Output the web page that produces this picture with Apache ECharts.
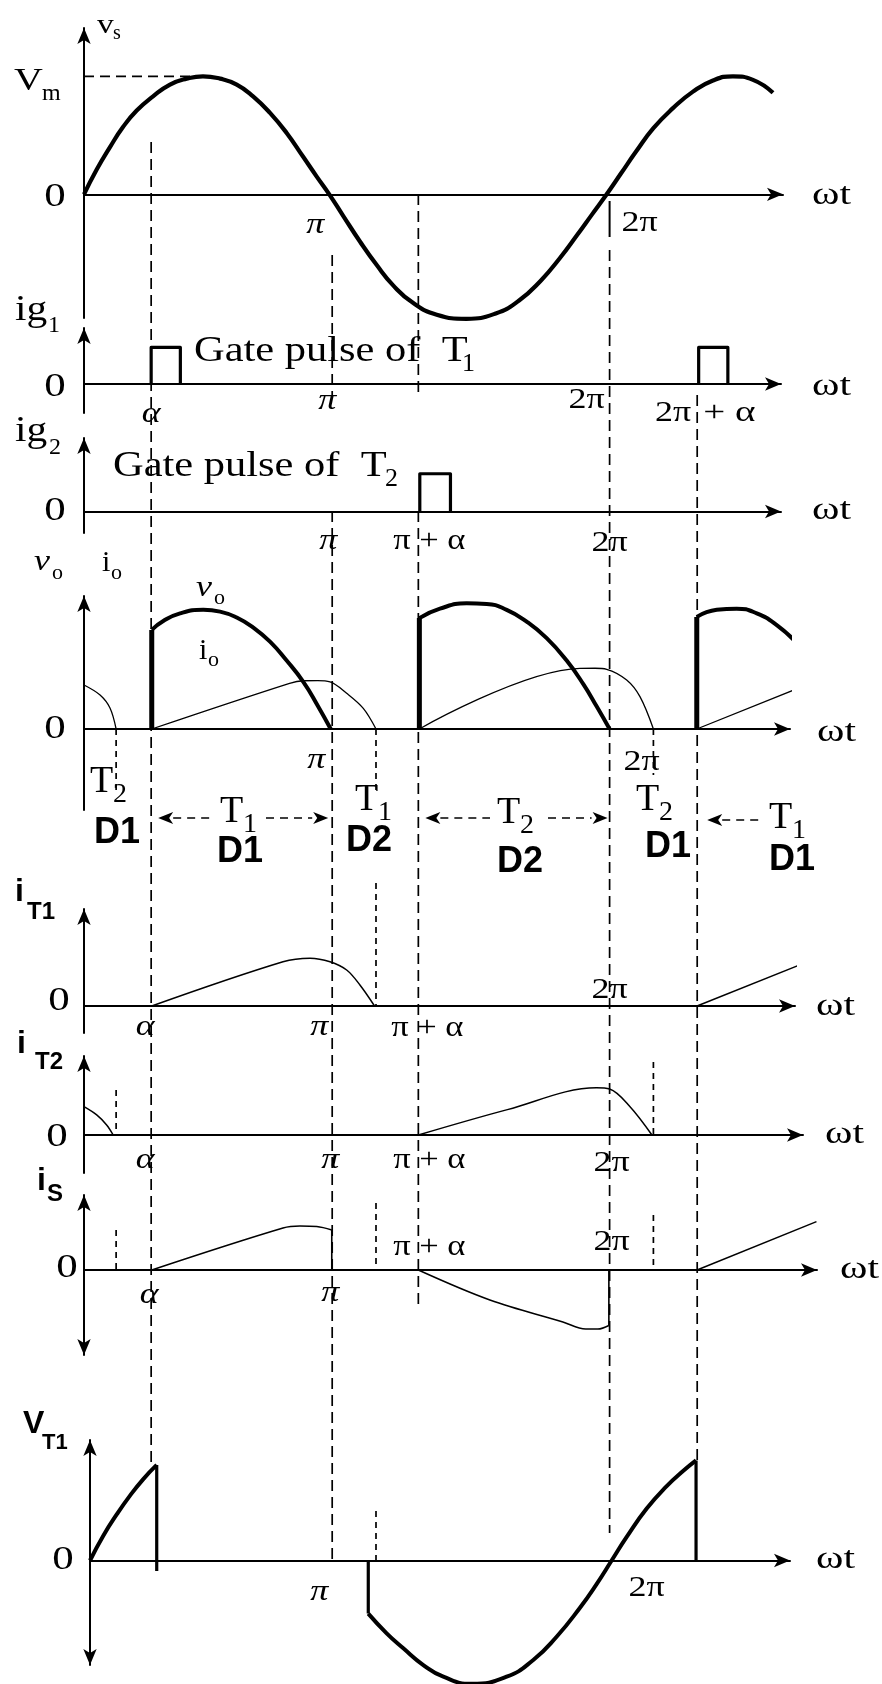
<!DOCTYPE html>
<html>
<head>
<meta charset="utf-8">
<script src="https://cdn.jsdelivr.net/npm/echarts@6/dist/echarts.min.js"></script>
<style>
html, body { margin: 0; padding: 0; background: #fff; }
#c { width: 882px; height: 1684px; }
</style>
</head>
<body>
<div id="c"></div>
<script>
// ---------------------------------------------------------------
// Single-phase semi-converter waveforms (RL load, freewheeling).
// x values are ωt in degrees, y values are in units of Vm.
// ---------------------------------------------------------------

// firing / commutation instants (ωt, degrees)
const ALPHA = 46, PI = 170, PI_ALPHA = 229, TWO_PI = 360, TWO_PI_ALPHA = 420;
// instants where the load current has died out
const IO_ZERO = [22, 200, 390];

// supply voltage vs
const VS = [[0,0],[8.7,0.21],[17.8,0.40],[26.7,0.57],[36.1,0.71],[47.3,0.83],[58.9,0.93],[70.3,0.98],
  [81.5,1.0],[93.2,0.98],[104.6,0.93],[115.8,0.83],[127.4,0.69],[138.8,0.52],[150,0.32],[159.4,0.15],
  [168,0],[177.4,-0.18],[189,-0.40],[200.5,-0.60],[211.6,-0.77],[225.3,-0.92],[241.6,-1.02],
  [262,-1.055],[282,-1.01],[298,-0.90],[313,-0.73],[326,-0.54],[337.5,-0.35],[348,-0.17],[358,0],
  [368,0.18],[378,0.36],[390,0.56],[403.4,0.73],[417.1,0.87],[430.8,0.965],[444.5,1.0],
  [458.2,0.97],[471.9,0.86]];
const VM = 1.0;
const VM_DASH_END = 78;

// gate pulses [start, end]
const IG1_PULSES = [[46, 66], [421, 441]];
const IG1_HEIGHT = 0.31;
const IG2_PULSES = [[230, 251]];
const IG2_HEIGHT = 0.32;

// output voltage arcs (each begins with a jump from zero)
const VO_ARCS = [
  [[46.4,0.84],[54.3,0.915],[65.8,0.98],[81.7,1.01],[93.2,0.995],[104.6,0.945],[116,0.86],[127.4,0.74],
   [138.8,0.58],[150.2,0.40],[160,0.2],[169,0]],
  [[229.7,0.94],[243.8,1.02],[262.1,1.065],[275.8,1.06],[289.5,1.01],[303.2,0.91],[316.9,0.77],
   [330.6,0.58],[342,0.38],[351.2,0.19],[360,0]],
  [[419.7,0.95],[433.4,1.01],[447,1.02],[460.8,0.98],[474.5,0.88],[488.1,0.73]]
];

// load current
const IO = [
  [[0,0.373],[11,0.288],[17.8,0.178],[22,0]],
  [[46.4,0],[140.8,0.387],[150.2,0.409],[160,0.41],[168.5,0.4],[179.9,0.303],[191.3,0.175],[200,0]],
  [[229.7,0],[339.7,0.514],[350,0.515],[358,0.506],[371.7,0.415],[380.8,0.274],[390,0]],
  [[419.7,0],[489.2,0.345]]
];

// thyristor currents
const IT1 = [
  [[46.4,0],[136.3,0.375],[154.8,0.405],[168.5,0.375],[179.9,0.305],[189,0.178],[199,0]],
  [[419.9,0],[490,0.347]]
];
const IT2 = [
  [[0,0.24],[8.7,0.17],[15.5,0.085],[20,0]],
  [[229,0],[290,0.215],[351,0.40],[360,0.39],[374,0.24],[389,0]]
];

// supply current (first two pieces end with a step back to zero)
const IS = [
  [[46.4,0],[136.3,0.356],[147.9,0.373],[159.4,0.368],[169.7,0.339]],
  [[229,0],[278,-0.254],[328,-0.44],[343.6,-0.5],[352,-0.5],[359.5,-0.47]],
  [[419.9,0],[501.7,0.41]]
];

// voltage across T1
const VT1 = [
  [[0,0],[9.1,0.21],[18.3,0.39],[27.4,0.55],[36.5,0.69],[45.7,0.81]],
  [[190.6,-0.45],[203.2,-0.617],[214.6,-0.744],[228.3,-0.886],[242,-0.985],[261.4,-1.045],
   [285.4,-0.985],[303.6,-0.843],[319.6,-0.646],[335.6,-0.40],[347,-0.20],[357.3,0],[367.6,0.20],
   [381.3,0.44],[395,0.63],[406.4,0.76],[415.1,0.848]]
];
const VT1_FIRST_DROP_END = -0.09;

// ---------------------------------------------------------------
// layout
// ---------------------------------------------------------------
const PX_PER_UNIT = 118;
const PX_PER_DEG = 1.46;
const ARROW = [10, 16];
const PANELS = [
  { left: 84, zero: 194.3, top: 20,   bottom: 318,  tip: 791 },
  { left: 84, zero: 384,   top: 320,  bottom: 413,  tip: 789 },
  { left: 84, zero: 511.5, top: 430,  bottom: 533,  tip: 789 },
  { left: 84, zero: 729,   top: 588,  bottom: 810,  tip: 798 },
  { left: 84, zero: 1006,  top: 901,  bottom: 1033, tip: 803 },
  { left: 84, zero: 1135,  top: 1048, bottom: 1173, tip: 811 },
  { left: 84, zero: 1270,  top: 1187, bottom: 1363, tip: 825, arrowDown: true },
  { left: 90, zero: 1560.5, top: 1432, bottom: 1673, tip: 798, arrowDown: true }
];

const SERIF = '"Liberation Serif", "Times New Roman", serif';
const SANS = '"Liberation Sans", Arial, sans-serif';
const INK = '#000';

const grids = [], xAxes = [], yAxes = [];
PANELS.forEach((p, i) => {
  const gTop = p.top + ARROW[1] / 2;
  const gBot = p.arrowDown ? p.bottom - ARROW[1] / 2 : p.bottom;
  const width = p.tip - p.left - ARROW[1] / 2;
  grids.push({ left: p.left, top: gTop, width: width, height: gBot - gTop });
  xAxes.push({
    gridIndex: i, type: 'value', min: 0, max: width / PX_PER_DEG,
    axisLine: { show: true, onZero: true, symbol: ['none', 'arrow'], symbolSize: ARROW,
      lineStyle: { color: INK, width: 2 } },
    axisTick: { show: false }, axisLabel: { show: false }, splitLine: { show: false }
  });
  yAxes.push({
    gridIndex: i, type: 'value',
    min: -(gBot - p.zero) / PX_PER_UNIT, max: (p.zero - gTop) / PX_PER_UNIT,
    axisLine: { show: true, onZero: true, symbol: [p.arrowDown ? 'arrow' : 'none', 'arrow'],
      symbolSize: ARROW, lineStyle: { color: INK, width: 2 } },
    axisTick: { show: false }, axisLabel: { show: false }, splitLine: { show: false }
  });
});

const series = [];
function line(grid, data, width, smooth, dash) {
  series.push({
    type: 'line', xAxisIndex: grid, yAxisIndex: grid, data: data,
    showSymbol: false, symbol: 'none', smooth: smooth || false, clip: false,
    silent: true, animation: false, z: 4,
    lineStyle: { color: INK, width: width, type: dash || 'solid', cap: 'butt', join: 'round' }
  });
}

// vs
line(0, VS, 4.2, 0.5);
line(0, [[0, VM], [VM_DASH_END, VM]], 1.7, false, [10, 6]);
// gate pulses
IG1_PULSES.forEach(([a, b]) => line(1, [[a, 0], [a, IG1_HEIGHT], [b, IG1_HEIGHT], [b, 0]], 3.2));
IG2_PULSES.forEach(([a, b]) => line(2, [[a, 0], [a, IG2_HEIGHT], [b, IG2_HEIGHT], [b, 0]], 3.2));
// vo and io
VO_ARCS.forEach(arc => {
  const s = arc[0];
  line(3, [[s[0], 0], s], 5);
  line(3, arc, 4, 0.5);
});
IO.forEach(seg => line(3, seg, 1.3, 0.35));
// thyristor currents
IT1.forEach(seg => line(4, seg, 1.5, 0.35));
IT2.forEach(seg => line(5, seg, 1.5, 0.35));
// supply current
IS.forEach((seg, k) => {
  line(6, seg, 1.5, 0.35);
  const e = seg[seg.length - 1];
  if (k < IS.length - 1) line(6, [e, [e[0], 0]], 1.6);
});
// vT1
line(7, VT1[0], 4, 0.5);
{
  const e = VT1[0][VT1[0].length - 1];
  line(7, [e, [e[0], VT1_FIRST_DROP_END]], 3.2);
  const s = VT1[1][0];
  line(7, [[s[0], 0], s], 3.2);
  line(7, VT1[1], 4, 0.5);
  const f = VT1[1][VT1[1].length - 1];
  line(7, [f, [f[0], 0]], 3.2);
}

const chart = echarts.init(document.getElementById('c'), null, { renderer: 'canvas' });
chart.setOption({
  backgroundColor: '#fff', animation: false,
  grid: grids, xAxis: xAxes, yAxis: yAxes, series: series
});

// ---------------------------------------------------------------
// guide lines and annotations
// ---------------------------------------------------------------
const xOf = (d, g) => chart.convertToPixel({ gridIndex: g || 0 }, [d, 0])[0];
const G = [];

function vline(x, y1, y2, dash, w) {
  G.push({ type: 'line', silent: true, z: 1,
    shape: { x1: x, y1: y1, x2: x, y2: y2 },
    style: { stroke: INK, lineWidth: w || 1.7, lineDash: dash || null } });
}
function hline(x1, x2, y, dash, w) {
  G.push({ type: 'line', silent: true, z: 1,
    shape: { x1: x1, y1: y, x2: x2, y2: y },
    style: { stroke: INK, lineWidth: w || 1.7, lineDash: dash || null } });
}
function head(x, y, dir) {
  G.push({ type: 'polygon', silent: true, z: 2,
    shape: { points: [[x, y], [x - dir * 15, y - 6], [x - dir * 11, y], [x - dir * 15, y + 6]] },
    style: { fill: INK } });
}
function txt(x, y, s, o) {
  o = o || {};
  G.push({ type: 'text', x: x, y: y, scaleX: o.sx || 1, silent: true, z: 10,
    style: { text: s, fill: INK, fontSize: o.size || 30, fontFamily: o.family || SERIF,
      fontStyle: o.italic ? 'italic' : 'normal', fontWeight: o.bold ? 'bold' : 'normal',
      align: o.align || 'left', verticalAlign: 'middle' } });
}

const LONG = [11, 6], SHORT = [6, 5];
const GUIDES = [
  [ALPHA, [[142, 1465]], LONG],
  [PI, [[255, 397], [511, 1560]], LONG],
  [PI_ALPHA, [[194, 397], [511, 1305]], LONG],
  [TWO_PI, [[250, 1533]], LONG],
  [TWO_PI_ALPHA, [[395, 1460]], LONG],
  [IO_ZERO[0], [[729, 790], [1090, 1135], [1230, 1270]], SHORT],
  [IO_ZERO[1], [[729, 793], [883, 1006], [1203, 1270], [1511, 1560]], SHORT],
  [IO_ZERO[2], [[729, 775], [1062, 1135], [1215, 1270]], SHORT]
];
GUIDES.forEach(([d, spans, dash]) => {
  const x = xOf(d);
  spans.forEach(([a, b]) => vline(x, a, b, dash));
});
vline(xOf(TWO_PI), 201, 237, null, 2);

const SX = 1.18;
const zero = (x, y) => txt(x, y, '0', { size: 33, align: 'center', sx: 1.3 });
const wt = (x, y) => txt(x, y, 'ωt', { size: 32, sx: 1.3 });
const pi = (x, y) => txt(x, y, 'π', { size: 30, italic: true, align: 'center', sx: 1.2 });
const twoPi = (x, y) => txt(x, y, '2π', { size: 30, align: 'center', sx: 1.2 });
const alpha = (x, y) => txt(x, y, 'α', { size: 30, italic: true, align: 'center', sx: 1.2 });
const piAlpha = (x, y) => txt(x, y, 'π + α', { size: 30, align: 'center', sx: 1.15 });

// vs panel
txt(97, 26, 'v', { size: 28, sx: 1.2 });
txt(113, 34, 's', { size: 20 });
txt(14, 82, 'V', { size: 32, sx: 1.25 });
txt(42, 94, 'm', { size: 24 });
zero(55, 197);
pi(xOf(PI) - 17, 225);
twoPi(xOf(TWO_PI) + 30, 223);
wt(812, 196);

// ig1 panel
txt(15, 311, 'ig', { size: 36, sx: 1.15 });
txt(48, 326, '1', { size: 24 });
zero(55, 387);
txt(194, 352, 'Gate pulse of  T', { size: 36, sx: SX });
txt(462, 364, '1', { size: 26 });
alpha(xOf(ALPHA), 414);
pi(xOf(PI) - 5, 401);
twoPi(xOf(TWO_PI) - 23, 400);
twoPi(xOf(TWO_PI_ALPHA) - 24, 413);
txt(xOf(TWO_PI_ALPHA) + 6, 413, '+ α', { size: 30, sx: 1.3 });
wt(812, 387);

// ig2 panel
txt(15, 432, 'ig', { size: 36, sx: 1.15 });
txt(49, 448, '2', { size: 24 });
txt(113, 467, 'Gate pulse of  T', { size: 36, sx: SX });
txt(385, 479, '2', { size: 26 });
zero(55, 511);
pi(xOf(PI) - 4, 541);
piAlpha(xOf(PI_ALPHA) + 11, 541);
twoPi(xOf(TWO_PI), 543);
wt(812, 511);

// vo / io panel
txt(34, 562, 'v', { size: 30, italic: true, sx: 1.2 });
txt(52, 573, 'o', { size: 22 });
txt(102, 563, 'i', { size: 30 });
txt(111, 573, 'o', { size: 22 });
txt(196, 588, 'v', { size: 30, italic: true, sx: 1.2 });
txt(214, 598, 'o', { size: 22 });
txt(199, 651, 'i', { size: 30 });
txt(208, 660, 'o', { size: 22 });
zero(55, 729);
pi(xOf(PI) - 16, 760);
twoPi(xOf(TWO_PI) + 32, 762);
wt(817, 733);

// conduction intervals
const cond = (x, y, sub, dy) => { txt(x, y, 'T', { size: 38 }); txt(x + 23, y + (dy || 13), sub, { size: 28 }); };
const dio = (x, y, s) => txt(x, y, s, { size: 36, family: SANS, bold: true });
cond(90, 782, '2'); dio(94, 833, 'D1');
cond(220, 812, '1'); dio(217, 852, 'D1');
cond(355, 800, '1'); dio(346, 841, 'D2');
cond(497, 813, '2'); dio(497, 862, 'D2');
cond(636, 800, '2'); dio(645, 847, 'D1');
cond(769, 818, '1'); dio(769, 860, 'D1');
head(xOf(ALPHA) + 7, 818, -1); hline(xOf(ALPHA) + 22, 212, 818, [8, 6], 1.6);
hline(266, xOf(PI) - 20, 818, [8, 6], 1.6); head(xOf(PI) - 4, 818, 1);
head(xOf(PI_ALPHA) + 7, 818, -1); hline(xOf(PI_ALPHA) + 22, 490, 818, [8, 6], 1.6);
hline(548, xOf(TWO_PI) - 18, 818, [8, 6], 1.6); head(xOf(TWO_PI) - 2, 818, 1);
head(xOf(TWO_PI_ALPHA) + 10, 820, -1); hline(xOf(TWO_PI_ALPHA) + 25, 764, 820, [8, 6], 1.6);

// iT1 panel
txt(15, 892, 'i', { size: 32, family: SANS, bold: true });
txt(27, 912, 'T1', { size: 24, family: SANS, bold: true });
zero(59, 1001);
alpha(xOf(ALPHA) - 6, 1027);
pi(xOf(PI) - 13, 1027);
piAlpha(xOf(PI_ALPHA) + 9, 1028);
twoPi(xOf(TWO_PI), 990);
wt(816, 1007);

// iT2 panel
txt(17, 1044, 'i', { size: 32, family: SANS, bold: true });
txt(35, 1062, 'T2', { size: 24, family: SANS, bold: true });
zero(57, 1137);
alpha(xOf(ALPHA) - 6, 1160);
pi(xOf(PI) - 2, 1160);
piAlpha(xOf(PI_ALPHA) + 11, 1160);
twoPi(xOf(TWO_PI) + 2, 1163);
wt(825, 1135);

// is panel
txt(37, 1181, 'i', { size: 32, family: SANS, bold: true });
txt(47, 1194, 'S', { size: 24, family: SANS, bold: true });
zero(67, 1268);
alpha(xOf(ALPHA) - 2, 1295);
pi(xOf(PI) - 2, 1293);
piAlpha(xOf(PI_ALPHA) + 11, 1247);
twoPi(xOf(TWO_PI) + 2, 1242);
wt(840, 1270);

// vT1 panel
txt(23, 1424, 'V', { size: 32, family: SANS, bold: true });
txt(42, 1443, 'T1', { size: 22, family: SANS, bold: true });
zero(63, 1560);
pi(xOf(PI) - 13, 1592);
twoPi(xOf(TWO_PI) + 37, 1588);
wt(816, 1560);

chart.setOption({ graphic: G });
</script>
</body>
</html>
